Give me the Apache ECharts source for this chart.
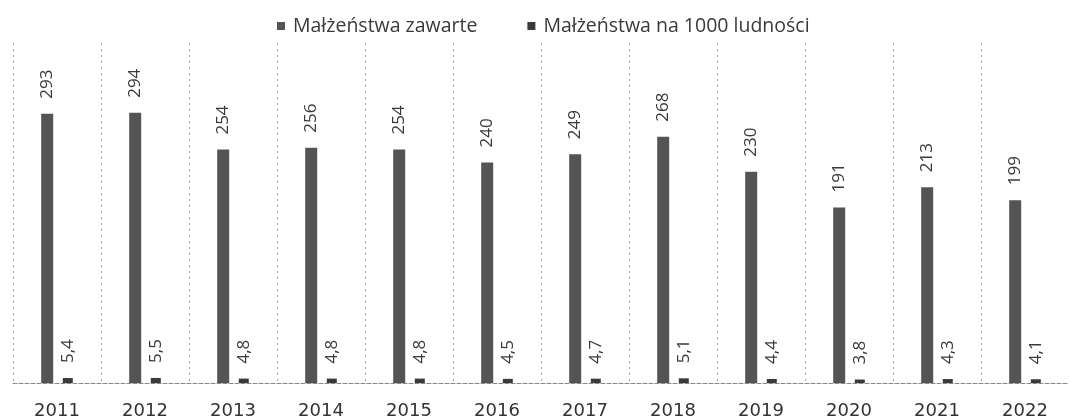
<!DOCTYPE html>
<html>
<head>
<meta charset="utf-8">
<script src="https://cdn.jsdelivr.net/npm/echarts@6/dist/echarts.min.js"></script>
<style>
  html, body { margin: 0; padding: 0; background: #fff; }
  #chart { width: 1069px; height: 420px; }
</style>
</head>
<body>
<div id="chart"></div>
<script>
// lata
const years = ['2011', '2012', '2013', '2014', '2015', '2016', '2017', '2018', '2019', '2020', '2021', '2022']
// Małżeństwa zawarte (tys.)
const zawarte = [293, 294, 254, 256, 254, 240, 249, 268, 230, 191, 213, 199]
// Małżeństwa na 1000 ludności
const na1000 = [5.4, 5.5, 4.8, 4.8, 4.8, 4.5, 4.7, 5.1, 4.4, 3.8, 4.3, 4.1]

const chart = echarts.init(document.getElementById('chart'))

const labelStyle = {
  show: true,
  position: 'top',
  rotate: 90,
  align: 'left',
  verticalAlign: 'middle',
  distance: 15,
  fontFamily: 'Open Sans',
  fontSize: 17,
  color: '#3a3a3a',
  formatter: p => String(p.value).replace('.', ',')
}

const option = {
  animation: false,
  textStyle: { fontFamily: 'Open Sans' },
  legend: {
    top: 11,
    left: 272,
    icon: 'rect',
    itemWidth: 8,
    itemHeight: 8,
    itemGap: 50,
    textStyle: { fontSize: 19.5, color: '#3a3a3a', padding: [0, 0, 0, 3] },
    data: ['Małżeństwa zawarte', 'Małżeństwa na 1000 ludności']
  },
  grid: {
    left: 13,
    right: -15,
    top: 43,
    bottom: 35
  },
  xAxis: {
    type: 'category',
    data: years,
    axisTick: { show: false },
    axisLine: { lineStyle: { color: '#888', type: 'dashed' } },
    axisLabel: { fontFamily: 'DejaVu Sans', fontSize: 18, color: '#333', margin: 19 },
    splitLine: {
      show: true,
      lineStyle: { color: '#aaa', type: [2, 4] }
    }
  },
  yAxis: {
    type: 'value',
    min: 0,
    max: 370,
    show: false,
    splitLine: { show: false }
  },
  series: [
    {
      name: 'Małżeństwa zawarte',
      type: 'bar',
      data: zawarte,
      barWidth: 12,
      barGap: '80%',
      itemStyle: { color: '#545454' },
      label: labelStyle
    },
    {
      name: 'Małżeństwa na 1000 ludności',
      type: 'bar',
      data: na1000,
      barWidth: 10,
      itemStyle: { color: '#3a3a3a' },
      label: labelStyle
    }
  ]
}

chart.setOption(option)
</script>
</body>
</html>
